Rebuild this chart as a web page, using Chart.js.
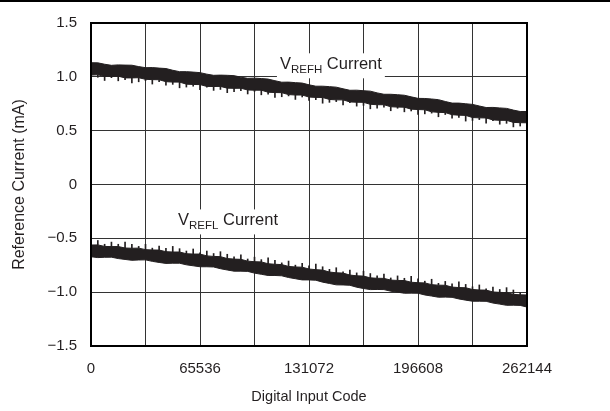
<!DOCTYPE html>
<html>
<head>
<meta charset="utf-8">
<script src="https://cdn.jsdelivr.net/npm/chart.js@4/dist/chart.umd.min.js"></script>
<style>
html,body{margin:0;padding:0;background:#fff;}
canvas{display:block;}
</style>
</head>
<body>
<canvas id="c" width="610" height="411"></canvas>
<script>
// Digital input codes (x)
const codes = [0,4096,8192,12288,16384,20480,24576,28672,32768,36864,40960,45056,49152,53248,57344,61440,65536,69632,73728,77824,81920,86016,90112,94208,98304,102400,106496,110592,114688,118784,122880,126976,131072,135168,139264,143360,147456,151552,155648,159744,163840,167936,172032,176128,180224,184320,188416,192512,196608,200704,204800,208896,212992,217088,221184,225280,229376,233472,237568,241664,245760,249856,253952,258048,262144];

// VREFH current (mA): top and bottom of the noisy band, and tips of the downward spikes
const vrefhTop = [1.131,1.130,1.117,1.107,1.111,1.109,1.108,1.095,1.085,1.086,1.081,1.077,1.061,1.048,1.048,1.044,1.039,1.025,1.014,1.016,1.014,1.011,0.997,0.986,0.988,0.984,0.979,0.964,0.950,0.951,0.946,0.942,0.926,0.913,0.913,0.909,0.904,0.889,0.875,0.876,0.871,0.867,0.851,0.838,0.838,0.834,0.829,0.814,0.800,0.799,0.794,0.788,0.771,0.756,0.756,0.750,0.744,0.729,0.715,0.716,0.711,0.707,0.691,0.678,0.678];
const vrefhBottom = [1.016,1.019,1.003,1.003,1.006,0.990,0.990,0.992,0.977,0.974,0.973,0.955,0.951,0.951,0.932,0.929,0.928,0.911,0.910,0.911,0.895,0.893,0.894,0.878,0.876,0.876,0.857,0.854,0.853,0.835,0.831,0.831,0.812,0.809,0.808,0.790,0.786,0.786,0.767,0.764,0.763,0.745,0.741,0.741,0.722,0.719,0.718,0.700,0.696,0.694,0.675,0.670,0.668,0.648,0.644,0.642,0.622,0.619,0.618,0.600,0.596,0.596,0.577,0.574,0.573];
const vrefhSpike = [0.985,0.996,0.966,0.992,0.963,0.973,0.944,0.954,0.965,0.933,0.955,0.923,0.930,0.898,0.905,0.913,0.880,0.904,0.874,0.883,0.853,0.862,0.871,0.841,0.865,0.833,0.840,0.808,0.815,0.823,0.790,0.813,0.780,0.788,0.755,0.763,0.770,0.738,0.760,0.728,0.735,0.703,0.710,0.718,0.685,0.708,0.675,0.683,0.650,0.656,0.663,0.629,0.650,0.616,0.623,0.589,0.595,0.603,0.570,0.593,0.560,0.568,0.535,0.543,0.550];

// VREFL current (mA): top and bottom of the band, and tips of the upward spikes
const vreflTop = [-0.562,-0.561,-0.575,-0.577,-0.576,-0.590,-0.592,-0.591,-0.605,-0.608,-0.609,-0.624,-0.627,-0.627,-0.643,-0.646,-0.646,-0.663,-0.668,-0.670,-0.688,-0.693,-0.695,-0.712,-0.717,-0.719,-0.736,-0.741,-0.744,-0.761,-0.766,-0.768,-0.785,-0.791,-0.795,-0.813,-0.820,-0.823,-0.841,-0.848,-0.851,-0.867,-0.871,-0.872,-0.888,-0.891,-0.892,-0.908,-0.912,-0.914,-0.930,-0.935,-0.936,-0.953,-0.957,-0.959,-0.975,-0.980,-0.981,-0.998,-1.002,-1.004,-1.020,-1.025,-1.026];
const vreflBottom = [-0.671,-0.679,-0.676,-0.675,-0.688,-0.696,-0.704,-0.701,-0.700,-0.714,-0.724,-0.733,-0.731,-0.731,-0.746,-0.755,-0.764,-0.764,-0.766,-0.782,-0.794,-0.805,-0.805,-0.807,-0.823,-0.834,-0.845,-0.845,-0.848,-0.864,-0.875,-0.886,-0.886,-0.889,-0.907,-0.919,-0.932,-0.933,-0.936,-0.954,-0.966,-0.976,-0.975,-0.976,-0.991,-1.000,-1.010,-1.009,-1.010,-1.026,-1.036,-1.047,-1.046,-1.048,-1.063,-1.074,-1.084,-1.084,-1.085,-1.101,-1.111,-1.122,-1.121,-1.123,-1.138];
const vreflSpike = [-0.540,-0.520,-0.555,-0.535,-0.555,-0.535,-0.555,-0.575,-0.555,-0.591,-0.573,-0.594,-0.575,-0.596,-0.618,-0.599,-0.635,-0.618,-0.641,-0.624,-0.648,-0.671,-0.654,-0.692,-0.675,-0.698,-0.681,-0.704,-0.728,-0.711,-0.749,-0.732,-0.755,-0.739,-0.764,-0.788,-0.773,-0.812,-0.796,-0.821,-0.805,-0.827,-0.849,-0.831,-0.868,-0.849,-0.871,-0.853,-0.875,-0.898,-0.880,-0.918,-0.900,-0.923,-0.905,-0.928,-0.950,-0.933,-0.970,-0.953,-0.975,-0.958,-0.980,-1.003,-0.985];

const xTickLabels = ['0','65536','131072','196608','262144'];
const yTickLabels = {'1.5':'1.5','1':'1.0','0.5':'0.5','0':'0','-0.5':'\u22120.5','-1':'\u22121.0','-1.5':'\u22121.5'};

const INK = '#231f20';
const FONT = '"Liberation Sans", Arial, sans-serif';

function pts(ys){ return codes.map((c,i)=>({x:c,y:ys[i]})); }
function spans(a,b){ return codes.map((c,i)=>({x:c,y:[a[i],b[i]]})); }

const decor = {
  id:'decor',
  afterDraw(chart){
    const ctx = chart.ctx, a = chart.chartArea;
    const xs = chart.scales.x, ys = chart.scales.y;
    ctx.save();
    ctx.fillStyle = '#000';
    ctx.fillRect(0,0,610,2);
    ctx.strokeStyle = '#000';
    ctx.lineWidth = 2;
    ctx.strokeRect(a.left, a.top, a.right-a.left, a.bottom-a.top);
    function label(code, val, sub){
      const x = xs.getPixelForValue(code), y = ys.getPixelForValue(val);
      ctx.font = '16.5px ' + FONT;
      const wV = ctx.measureText('V').width;
      ctx.font = '11.5px ' + FONT;
      const wS = ctx.measureText(sub).width;
      ctx.font = '16.5px ' + FONT;
      const wC = ctx.measureText(' Current').width;
      const total = wV + wS + wC;
      ctx.fillStyle = '#fff';
      ctx.fillRect(x-3, y-16, total+6, 25);
      ctx.fillStyle = INK;
      ctx.textBaseline = 'alphabetic';
      ctx.textAlign = 'left';
      ctx.font = '16.5px ' + FONT;
      ctx.fillText('V', x, y);
      ctx.font = '11.5px ' + FONT;
      ctx.fillText(sub, x+wV, y+4);
      ctx.font = '16.5px ' + FONT;
      ctx.fillText(' Current', x+wV+wS, y);
    }
    label(113600, 1.07, 'REFH');
    label(52300, -0.38, 'REFL');
    ctx.restore();
  }
};

const lineBase = {type:'line', borderColor:INK, borderWidth:1, pointRadius:0, tension:0, order:2};
const spikeBase = {type:'bar', backgroundColor:INK, barThickness:1, grouped:false, order:1};

new Chart(document.getElementById('c'), {
  type:'line',
  data:{
    datasets:[
      Object.assign({data:pts(vrefhTop), fill:false}, lineBase),
      Object.assign({data:pts(vrefhBottom), fill:'-1', backgroundColor:INK}, lineBase),
      Object.assign({data:pts(vreflTop), fill:false}, lineBase),
      Object.assign({data:pts(vreflBottom), fill:'-1', backgroundColor:INK}, lineBase),
      Object.assign({data:spans(vrefhBottom, vrefhSpike)}, spikeBase),
      Object.assign({data:spans(vreflTop, vreflSpike)}, spikeBase)
    ]
  },
  options:{
    responsive:false,
    animation:false,
    events:[],
    layout:{padding:{top:15,right:83,left:0,bottom:0}},
    plugins:{legend:{display:false},tooltip:{enabled:false}},
    scales:{
      x:{
        type:'linear', min:0, max:262144, offset:false,
        afterFit(s){ s.height = 65; },
        border:{display:false},
        grid:{color:'#333', lineWidth:1, drawTicks:false, offset:false},
        ticks:{
          stepSize:32768, autoSkip:false, maxRotation:0, padding:14,
          color:INK, font:{family:FONT, size:15},
          callback(v){ return v % 65536 === 0 ? xTickLabels[v/65536] : ''; }
        },
        title:{display:true, text:'Digital Input Code', color:INK, font:{family:FONT, size:14.5}, padding:{top:0,bottom:5}}
      },
      y:{
        min:-1.5, max:1.5,
        afterFit(s){ s.width = 91; },
        border:{display:false},
        grid:{color:'#333', lineWidth:1, drawTicks:false},
        ticks:{
          stepSize:0.5, padding:14, color:INK, font:{family:FONT, size:15},
          callback(v){ return yTickLabels[String(v)] ?? ''; }
        },
        title:{display:true, text:'Reference Current (mA)', color:INK, font:{family:FONT, size:16}, padding:{top:10,bottom:0}}
      }
    }
  },
  plugins:[decor]
});
</script>
</body>
</html>
